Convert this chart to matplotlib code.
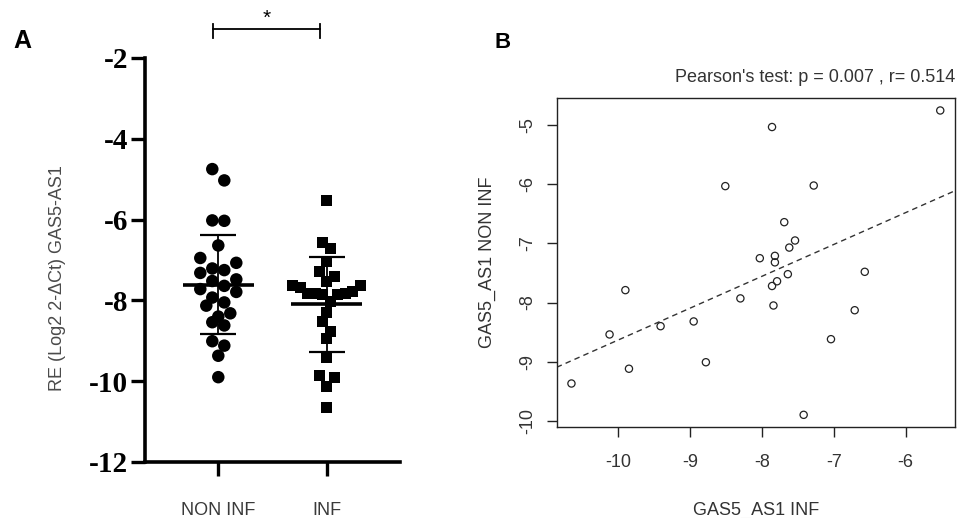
import numpy as np
import matplotlib
matplotlib.use("Agg")
import matplotlib.pyplot as plt

# Paired expression values (log2 2^-dCt) of GAS5-AS1
non_inf = [-9.37, -8.54, -7.79, -9.12, -8.40, -8.32, -9.01, -6.03, -7.93, -7.25,
           -5.03, -7.21, -7.32, -7.72, -7.64, -8.05, -6.64, -7.07, -6.95, -7.52,
           -9.90, -6.02, -8.62, -8.13, -7.48, -4.75]
inf = [-10.65, -10.12, -9.90, -9.85, -9.41, -8.95, -8.78, -8.51, -8.30, -8.03,
       -7.86, -7.82, -7.82, -7.86, -7.79, -7.84, -7.69, -7.62, -7.54, -7.64,
       -7.42, -7.28, -7.04, -6.71, -6.57, -5.52]

groups = ["NON INF", "INF"]
yticks_a = [-12, -10, -8, -6, -4, -2]
xticks_b = [-10, -9, -8, -7, -6]
yticks_b = [-10, -9, -8, -7, -6, -5]
pearson_text = "Pearson's test: p = 0.007 , r= 0.514"

W, H, DPI = 9.66, 5.18, 100
fig = plt.figure(figsize=(W, H), dpi=DPI)
fig.patch.set_facecolor("white")

SANS = ["Liberation Sans", "DejaVu Sans"]
SERIF = ["Liberation Serif", "DejaVu Serif"]
PT = 72.0 / DPI  # points per pixel


def row_spread(values, bin_h, step):
    """Scatter-dot spread: points falling in the same horizontal band are
    set side by side, the outermost slots filled first (top values first)."""
    vals = np.asarray(values, dtype=float)
    top = vals.max()
    bins = np.floor((top - vals) / bin_h + 1e-9).astype(int)
    offs = np.zeros(len(vals))
    for b in np.unique(bins):
        idx = np.where(bins == b)[0]
        idx = idx[np.argsort(-vals[idx], kind="stable")]
        n = len(idx)
        slots = (np.arange(n) - (n - 1) / 2.0) * step
        # outside-in alternating slot order: left-most, right-most, ...
        order = []
        lo, hi = 0, n - 1
        while lo <= hi:
            order.append(lo)
            if hi != lo:
                order.append(hi)
            lo += 1
            hi -= 1
        for k, i in enumerate(idx):
            offs[i] = slots[order[k]]
    return offs


# ---------------- Panel A: dot plot with mean +/- SD ----------------
axA = fig.add_axes([145 / 966, (518 - 462) / 518, (400 - 145) / 966, (462 - 58) / 518])
xlimA = (-0.676, 1.676)
ylimA = (-12, -2)
axA.set_xlim(*xlimA)
axA.set_ylim(*ylimA)
px_per_x = (400 - 145) / (xlimA[1] - xlimA[0])

styles = [("o", 12.5, 12.0), ("s", 11.0, 7.5)]
for gi, (vals, (mk, ms_px, step_px)) in enumerate(zip([non_inf, inf], styles)):
    offs = row_spread(vals, 0.42, step_px / px_per_x)
    axA.scatter(gi + offs, vals, marker=mk, s=(ms_px * PT) ** 2, color="black",
                edgecolor="none", zorder=3, clip_on=False)
    m = np.mean(vals)
    sd = np.std(vals, ddof=1)
    axA.plot([gi - 0.33, gi + 0.33], [m, m], color="black", lw=2.6, zorder=4,
             solid_capstyle="butt")
    axA.plot([gi, gi], [m - sd, m + sd], color="black", lw=1.3, zorder=4)
    for yy in (m - sd, m + sd):
        axA.plot([gi - 0.165, gi + 0.165], [yy, yy], color="black", lw=1.6,
                 zorder=4, solid_capstyle="butt")

for s in ("top", "right"):
    axA.spines[s].set_visible(False)
for s in ("left", "bottom"):
    axA.spines[s].set_linewidth(2.6)
    axA.spines[s].set_capstyle("projecting")
axA.set_yticks(yticks_a)
axA.set_yticklabels([str(t) for t in yticks_a], family=SERIF, fontweight="bold",
                    fontsize=21)
axA.set_xticks([0, 1])
axA.set_xticklabels(groups, family=SANS, fontsize=13, color="#3a3a3a")
axA.tick_params(axis="y", direction="out", length=10, width=2.4, pad=2)
axA.tick_params(axis="x", direction="out", length=10, width=2.4, pad=18.5)
axA.set_ylabel("RE (Log2 2-\u0394Ct) GAS5-AS1", family=SANS, fontsize=13,
               color="#4a4a4a")
axA.yaxis.set_label_coords(-0.31, 0.455)

# significance bracket
by, bt = -1.29, -1.50
axA.plot([-0.052, 0.938], [by, by], color="black", lw=1.3, clip_on=False)
axA.plot([-0.052, -0.052], [-1.17, bt], color="black", lw=1.3, clip_on=False)
axA.plot([0.938, 0.938], [-1.17, bt], color="black", lw=1.3, clip_on=False)
axA.text(0.447, -1.02, "*", ha="center", va="center", fontsize=15,
         family=SANS, clip_on=False)

fig.text(22.5 / 966, 1 - 41 / 518, "A", ha="center", va="center",
         fontsize=18, fontweight="bold", family=SANS)

# ---------------- Panel B: correlation scatter ----------------
axB = fig.add_axes([556.7 / 966, (518 - 427) / 518, (955 - 556.7) / 966,
                    (427 - 98.3) / 518])
xv = np.array(inf)
yv = np.array(non_inf)


def r_pad(v):
    lo, hi = v.min(), v.max()
    p = 0.04 * (hi - lo)
    return lo - p, hi + p


axB.set_xlim(*r_pad(xv))
axB.set_ylim(*r_pad(yv))
axB.scatter(xv, yv, s=27, facecolor="none", edgecolor="#222222", lw=0.9,
            zorder=3)
slope, icpt = np.polyfit(xv, yv, 1)
axB.axline((0, icpt), slope=slope, color="#333333", lw=1.0,
           linestyle=(0, (4, 3)))
for s in axB.spines.values():
    s.set_linewidth(1.0)
    s.set_color("#222222")
axB.set_xticks(xticks_b)
axB.set_xticklabels([str(t) for t in xticks_b], family=SANS, fontsize=13,
                    color="#333333")
axB.set_yticks(yticks_b)
axB.set_yticklabels([str(t) for t in yticks_b], family=SANS, fontsize=13,
                    color="#333333", rotation=90, va="center")
axB.tick_params(axis="both", direction="out", length=7.5, width=1.0,
                color="#222222")
axB.tick_params(axis="x", pad=12)
axB.tick_params(axis="y", pad=7)
axB.set_xlabel("GAS5_AS1 INF", family=SANS, fontsize=13, color="#333333",
               labelpad=22)
axB.set_ylabel("GAS5_AS1 NON INF", family=SANS, fontsize=13, color="#333333",
               labelpad=17)
axB.set_title(pearson_text, loc="right", family=SANS, fontsize=13,
              color="#333333", pad=12)

fig.text(503 / 966, 1 - 42.5 / 518, "B", ha="center", va="center",
         fontsize=16, fontweight="bold", family=SANS)

fig.savefig("out.png", dpi=DPI, facecolor="white")
